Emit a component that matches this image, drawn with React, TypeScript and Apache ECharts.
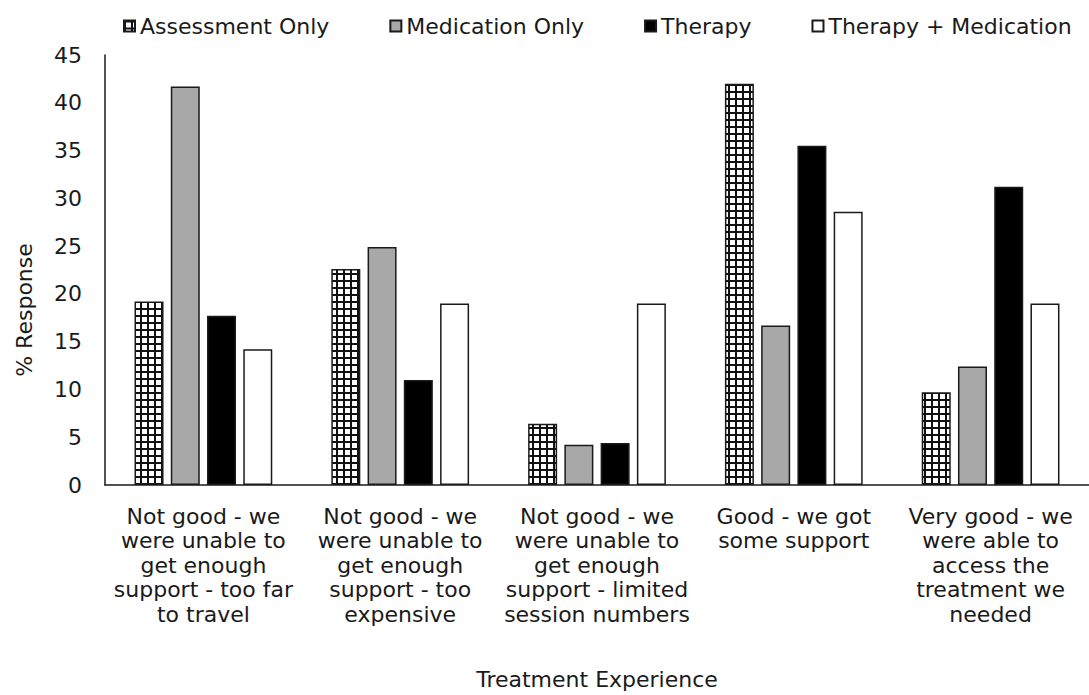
import React, { useEffect, useRef } from "react";
import * as echarts from "echarts";

const categories = [
  "Not good - we\nwere unable to\nget enough\nsupport - too far\nto travel",
  "Not good - we\nwere unable to\nget enough\nsupport - too\nexpensive",
  "Not good - we\nwere unable to\nget enough\nsupport - limited\nsession numbers",
  "Good - we got\nsome support",
  "Very good - we\nwere able to\naccess the\ntreatment we\nneeded",
];
const seriesNames = ["Assessment Only", "Medication Only", "Therapy", "Therapy + Medication"];
const assessmentOnly = [19.2, 22.6, 6.4, 42.0, 9.7];
const medicationOnly = [41.7, 24.9, 4.2, 16.7, 12.4];
const therapy = [17.7, 11.0, 4.4, 35.5, 31.2];
const therapyMedication = [14.2, 19.0, 19.0, 28.6, 19.0];
const yTicks = { min: 0, max: 45, interval: 5 };

const FONT = "DejaVu Sans";
const TEXT = "#1a1a1a";
const FS = 22;

function makeGridPattern() {
  const size = 7;
  const c = document.createElement("canvas");
  c.width = size;
  c.height = size;
  const ctx = c.getContext("2d")!;
  ctx.fillStyle = "#ffffff";
  ctx.fillRect(0, 0, size, size);
  ctx.fillStyle = "#111111";
  ctx.fillRect(0, 0, size, 2);
  ctx.fillRect(0, 0, 2, size);
  return { image: c, repeat: "repeat", imageWidth: size, imageHeight: size } as any;
}

export default function App() {
  const ref = useRef<HTMLDivElement>(null);
  useEffect(() => {
    document.body.style.margin = "0";
    const chart = echarts.init(ref.current!, null, { renderer: "svg" });
    const border = { borderColor: "#1a1a1a", borderWidth: 1.5 };
    const fills = [makeGridPattern(), "#a8a8a8", "#000000", "#ffffff"];
    const data = [assessmentOnly, medicationOnly, therapy, therapyMedication];
    chart.setOption({
      animation: false,
      backgroundColor: "#ffffff",
      textStyle: { fontFamily: FONT, color: TEXT },
      legend: {
        left: 118,
        top: 10,
        itemWidth: 11,
        itemHeight: 11,
        itemGap: 60,
        icon: "rect",
        textStyle: { fontFamily: FONT, fontSize: FS, color: TEXT },
        data: seriesNames,
      },
      grid: { left: 105, top: 55, height: 432, width: 990, containLabel: false },
      xAxis: {
        type: "category",
        data: categories,
        name: "Treatment Experience",
        nameLocation: "middle",
        nameGap: 183,
        nameTextStyle: { fontFamily: FONT, fontSize: FS, color: TEXT },
        axisLine: { lineStyle: { color: "#1a1a1a", width: 1.5 } },
        axisTick: { show: false },
        axisLabel: {
          interval: 0,
          margin: 19,
          fontFamily: FONT,
          fontSize: FS,
          lineHeight: 24.5,
          color: TEXT,
          align: "center",
        },
      },
      yAxis: {
        type: "value",
        min: yTicks.min,
        max: yTicks.max,
        interval: yTicks.interval,
        name: "% Response",
        nameLocation: "middle",
        nameGap: 70,
        nameTextStyle: { fontFamily: FONT, fontSize: FS, color: TEXT, padding: [0, 80, 0, 0] },
        axisLine: { show: true, lineStyle: { color: "#1a1a1a", width: 1.5 } },
        axisTick: { show: false },
        splitLine: { show: false },
        axisLabel: { margin: 23, fontFamily: FONT, fontSize: FS, color: TEXT },
      },
      series: seriesNames.map((name, i) => ({
        name,
        type: "bar",
        data: data[i],
        barWidth: 29,
        barGap: "25%",
        itemStyle: { color: fills[i], ...border },
        emphasis: { disabled: true },
      })),
    });
    return () => chart.dispose();
  }, []);
  return (
    <div
      ref={ref}
      style={{ position: "fixed", left: 0, top: 0, width: 1089, height: 695 }}
    />
  );
}
